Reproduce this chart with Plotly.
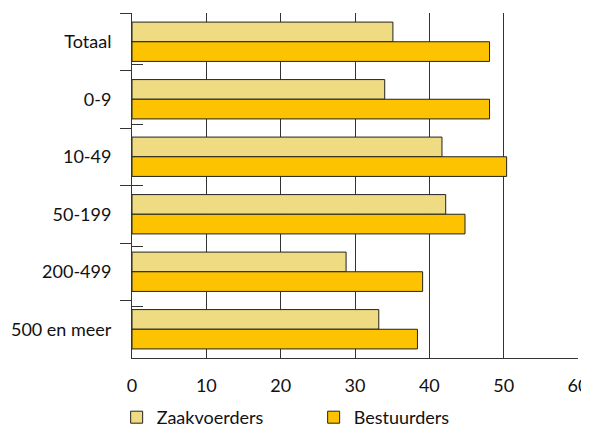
import plotly.graph_objects as go

# categories (top to bottom) and percentages
categories = ["Totaal", "0-9", "10-49", "50-199", "200-499", "500 en meer"]
zaakvoerders = [35.1, 34.0, 41.7, 42.2, 28.8, 33.2]
bestuurders = [48.1, 48.1, 50.4, 44.8, 39.1, 38.4]
x_ticks = [0, 10, 20, 30, 40, 50, 60]

FONT = "Lato"

fig = go.Figure()
fig.add_trace(go.Bar(
    y=categories, x=zaakvoerders, name="Zaakvoerders", orientation="h",
    marker=dict(color="#EEDB82", line=dict(color="#222222", width=1)),
))
fig.add_trace(go.Bar(
    y=categories, x=bestuurders, name="Bestuurders", orientation="h",
    marker=dict(color="#FDC300", line=dict(color="#222222", width=1)),
))

# invisible trace on a second y axis, only to draw the inner half of the crossing ticks
fig.add_trace(go.Scatter(
    y=categories, x=[0] * len(categories), yaxis="y2", mode="markers",
    marker=dict(opacity=0), showlegend=False, hoverinfo="skip",
))

# page body has an 8px margin, so the figure is a bit smaller than the window
fig.update_layout(
    width=581, height=428,
    margin=dict(l=124, r=11, t=5, b=78),
    paper_bgcolor="white", plot_bgcolor="white",
    font=dict(family=FONT, size=18, color="#111111"),
    barmode="group", bargap=0.316, bargroupgap=0,
    xaxis=dict(
        range=[0, 60], tickvals=x_ticks, ticks="",
        showgrid=True, gridcolor="#333333", gridwidth=1,
        zeroline=False, showline=True, linecolor="#333333", linewidth=1,
        tickfont=dict(size=18), ticklabelstandoff=11, automargin=False,
        ticklabeloverflow="allow",
    ),
    yaxis=dict(
        autorange="reversed", categoryorder="array", categoryarray=categories,
        showline=True, linecolor="#333333", linewidth=1,
        ticks="outside", tickson="boundaries", ticklen=11, tickcolor="#333333",
        showgrid=False, tickfont=dict(size=18), ticklabelstandoff=16,
        automargin=False,
    ),
    yaxis2=dict(
        overlaying="y", side="left", autorange="reversed",
        categoryorder="array", categoryarray=categories,
        ticks="inside", tickson="boundaries", ticklen=11, tickcolor="#333333",
        showticklabels=False, showgrid=False, showline=False, automargin=False,
    ),
    legend=dict(
        orientation="h", xref="container", x=0.187, xanchor="left",
        yref="container", y=-0.035, yanchor="bottom",
        entrywidth=152, font=dict(size=18), traceorder="normal",
    ),
)

fig.write_html("out.html")
